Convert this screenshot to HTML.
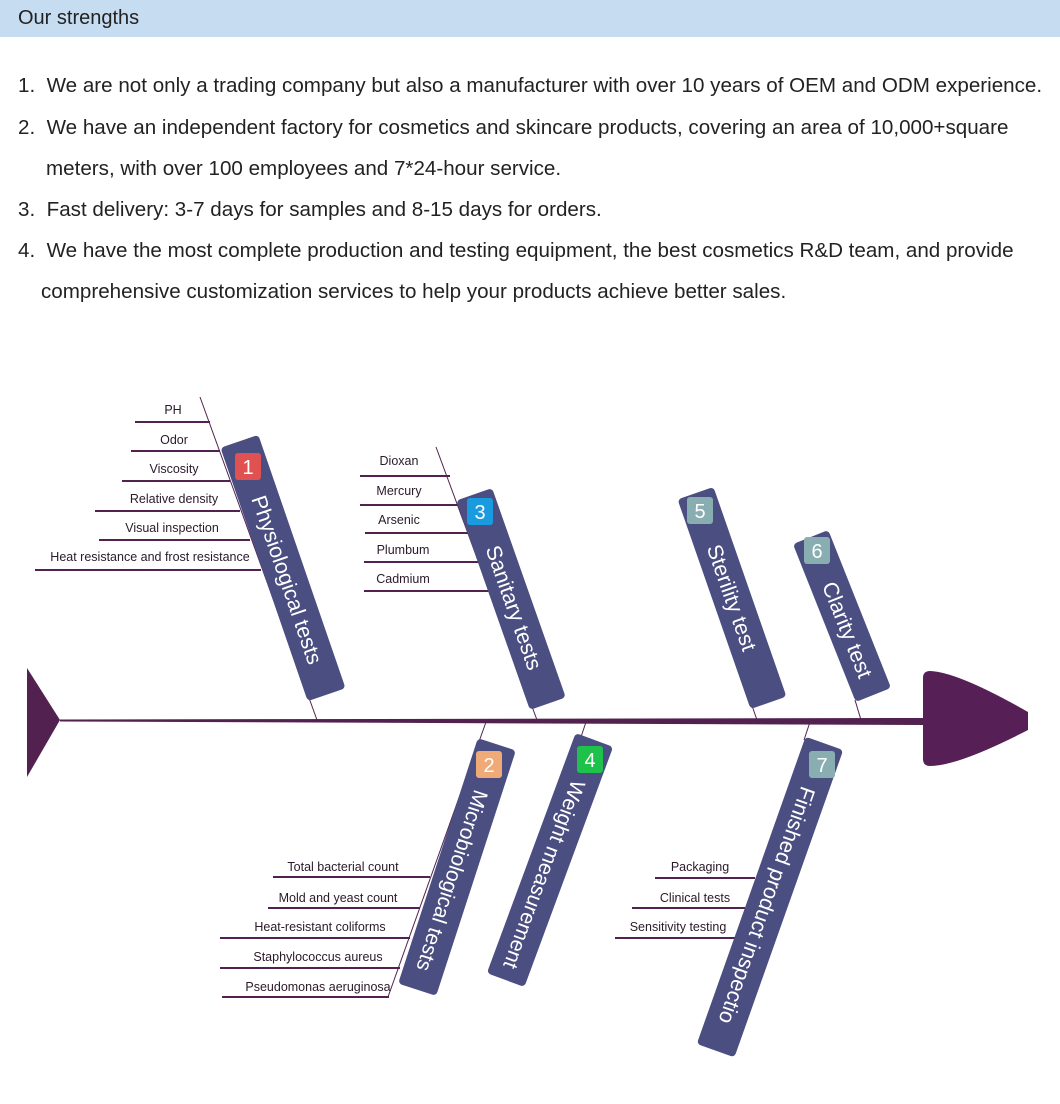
<!DOCTYPE html>
<html><head><meta charset="utf-8"><style>
html,body{margin:0;padding:0;background:#fff;width:1060px;height:1104px;overflow:hidden;font-family:"Liberation Sans",sans-serif;}
.hdr{position:absolute;left:0;top:0;width:1060px;height:37px;background:#c6dcf0;}
.hdr span{position:absolute;left:18px;top:7px;font-size:20px;color:#222;}
.p{position:absolute;left:18px;font-size:20.6px;color:#222;white-space:nowrap;letter-spacing:0px;}
svg{position:absolute;left:0;top:0;}
</style></head><body>
<div class="hdr"><span>Our strengths</span></div>
<div class="p" style="top:74px">1.&nbsp; We are not only a trading company but also a manufacturer with over 10 years of OEM and ODM experience.</div>
<div class="p" style="top:116px">2.&nbsp; We have an independent factory for cosmetics and skincare products, covering an area of 10,000+square</div>
<div class="p" style="top:157px;left:46px">meters, with over 100 employees and 7*24-hour service.</div>
<div class="p" style="top:198px">3.&nbsp; Fast delivery: 3-7 days for samples and 8-15 days for orders.</div>
<div class="p" style="top:239px">4.&nbsp; We have the most complete production and testing equipment, the best cosmetics R&amp;D team, and provide</div>
<div class="p" style="top:280px;left:41px">comprehensive customization services to help your products achieve better sales.</div>

<svg width="1060" height="1104" viewBox="0 0 1060 1104" font-family="Liberation Sans, sans-serif">
<g stroke="#52214f" stroke-width="1" fill="none">
<line x1="200" y1="397" x2="317" y2="720"/>
<line x1="436" y1="447" x2="537" y2="720"/>
<line x1="750" y1="700" x2="757" y2="720"/>
<line x1="855" y1="700" x2="861" y2="720"/>
<line x1="486" y1="722" x2="388" y2="997"/>
<line x1="586" y1="722" x2="580" y2="740"/>
<line x1="810" y1="722" x2="804" y2="740"/>
</g>
<polygon points="60,719.5 925,718 925,725 60,721.5" fill="#52214f"/>
<polygon points="27,668 60,720 27,777" fill="#52214f"/>
<path d="M923,678 Q923,671 930,671 Q958,672 1028,712 L1028,730 Q958,766 930,766 Q923,766 923,759 Z" fill="#561f55"/>

<g stroke="#52214f" stroke-width="2">
<line x1="135" y1="422" x2="210" y2="422"/>
<line x1="131" y1="451" x2="220" y2="451"/>
<line x1="122" y1="481" x2="230" y2="481"/>
<line x1="95" y1="511" x2="240" y2="511"/>
<line x1="99" y1="540" x2="250" y2="540"/>
<line x1="35" y1="570" x2="261" y2="570"/>
<line x1="360" y1="476" x2="450" y2="476"/>
<line x1="360" y1="505" x2="460" y2="505"/>
<line x1="365" y1="533" x2="470" y2="533"/>
<line x1="364" y1="562" x2="480" y2="562"/>
<line x1="364" y1="591" x2="490" y2="591"/>
<line x1="273" y1="877" x2="430" y2="877"/>
<line x1="268" y1="908" x2="420" y2="908"/>
<line x1="220" y1="938" x2="410" y2="938"/>
<line x1="220" y1="968" x2="400" y2="968"/>
<line x1="222" y1="997" x2="389" y2="997"/>
<line x1="655" y1="878" x2="755" y2="878"/>
<line x1="632" y1="908" x2="745" y2="908"/>
<line x1="615" y1="938" x2="735" y2="938"/>
</g>
<g font-size="12.5" fill="#2a1a2a" text-anchor="middle">
<text x="173" y="414">PH</text>
<text x="174" y="444">Odor</text>
<text x="174" y="473">Viscosity</text>
<text x="174" y="503">Relative density</text>
<text x="172" y="532">Visual inspection</text>
<text x="150" y="561">Heat resistance and frost resistance</text>
<text x="399" y="465">Dioxan</text>
<text x="399" y="495">Mercury</text>
<text x="399" y="524">Arsenic</text>
<text x="403" y="554">Plumbum</text>
<text x="403" y="583">Cadmium</text>
<text x="343" y="871">Total bacterial count</text>
<text x="338" y="902">Mold and yeast count</text>
<text x="320" y="931">Heat-resistant coliforms</text>
<text x="318" y="961">Staphylococcus aureus</text>
<text x="318" y="991">Pseudomonas aeruginosa</text>
<text x="700" y="871">Packaging</text>
<text x="695" y="902">Clinical tests</text>
<text x="678" y="931">Sensitivity testing</text>
</g>

<g fill="#4b4e80">
<g transform="translate(283,568) rotate(-19)"><rect x="-20" y="-134" width="40" height="268" rx="4"/><text transform="translate(0,-76) rotate(90)" y="7.5" font-size="21.5" fill="#fff">Physiological tests</text></g>
<g transform="translate(511,599) rotate(-19.4)"><rect x="-19" y="-111" width="38" height="222" rx="4"/><text transform="translate(0,-56) rotate(90)" y="7.5" font-size="21.5" fill="#fff">Sanitary tests</text></g>
<g transform="translate(732,598) rotate(-19.2)"><rect x="-19" y="-111" width="38" height="222" rx="4"/><text transform="translate(0,-56) rotate(90)" y="7.5" font-size="21.5" fill="#fff">Sterility test</text></g>
<g transform="translate(842,616) rotate(-21.7)"><rect x="-19" y="-85" width="38" height="170" rx="4"/><text transform="translate(0,-36) rotate(90)" y="7.5" font-size="21.5" fill="#fff">Clarity test</text></g>
<g transform="translate(457,867) rotate(18)"><rect x="-20" y="-129" width="40" height="258" rx="4"/><text transform="translate(0,-80) rotate(90)" y="7.5" font-size="21" fill="#fff">Microbiological tests</text></g>
<g transform="translate(550,860) rotate(20.3)"><rect x="-20" y="-128" width="40" height="256" rx="4"/><text transform="translate(0,-84) rotate(90)" y="7.5" font-size="21" fill="#fff">Weight measurement</text></g>
<g transform="translate(770,897) rotate(19.5)"><rect x="-20" y="-163" width="40" height="326" rx="4"/><text transform="translate(0,-116) rotate(90)" y="7.5" font-size="21.5" fill="#fff">Finished product inspectio</text></g>
</g>

<g font-size="20" fill="#fff" text-anchor="middle">
<rect x="235" y="453" width="26" height="27" rx="3" fill="#e05252"/><text x="248" y="474">1</text>
<rect x="467" y="498" width="26" height="27" rx="3" fill="#1a9be0"/><text x="480" y="519">3</text>
<rect x="687" y="497" width="26" height="27" rx="3" fill="#88aeb2"/><text x="700" y="518">5</text>
<rect x="804" y="537" width="26" height="27" rx="3" fill="#88aeb2"/><text x="817" y="558">6</text>
<rect x="476" y="751" width="26" height="27" rx="3" fill="#f0aa78"/><text x="489" y="772">2</text>
<rect x="577" y="746" width="26" height="27" rx="3" fill="#1ec24a"/><text x="590" y="767">4</text>
<rect x="809" y="751" width="26" height="27" rx="3" fill="#88aeb2"/><text x="822" y="772">7</text>
</g>
</svg>
</body></html>
